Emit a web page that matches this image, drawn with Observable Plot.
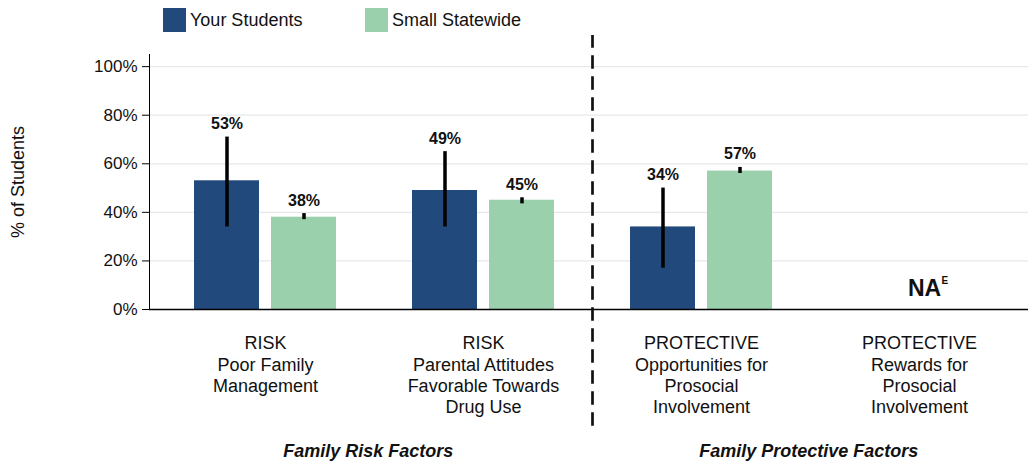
<!DOCTYPE html>
<html>
<head>
<meta charset="utf-8">
<script src="https://cdn.jsdelivr.net/npm/d3@7"></script>
<script src="https://cdn.jsdelivr.net/npm/@observablehq/plot@0.6"></script>
<style>
  html, body { margin: 0; padding: 0; background: #fff; overflow: hidden; }
  body { width: 1029px; height: 467px; font-family: "Liberation Sans", Arial, sans-serif; color: #111; }
  #legend { height: 35px; position: relative; font-size: 18px; }
  .item { position: absolute; top: 8px; display: flex; align-items: center; height: 24px; }
  .sw { width: 23px; height: 24px; margin-right: 4px; }
  #groups { height: 35px; display: flex; padding-left: 148px; font-size: 18px; font-weight: bold; font-style: italic; }
  #groups div { flex: 1; text-align: center; padding-top: 9px; }
  svg { display: block; }
</style>
</head>
<body>
<div id="legend"></div>
<div id="chart"></div>
<div id="groups"></div>
<script>
// ---- data ----
const categories = [
  "RISK\nPoor Family\nManagement",
  "RISK\nParental Attitudes\nFavorable Towards\nDrug Use",
  "PROTECTIVE\nOpportunities for\nProsocial\nInvolvement",
  "PROTECTIVE\nRewards for\nProsocial\nInvolvement"
];
const series = ["Your Students", "Small Statewide"];
const yourStudents = [53, 49, 34, null];
const yourLow = [34, 34, 17, null];
const yourHigh = [71, 65, 50, null];
const smallStatewide = [38, 45, 57, null];
const stateLow = [37, 43.5, 56, null];
const stateHigh = [39.5, 46, 58.5, null];
const naCategory = categories[3];
const naText = "NA";
const naSuperscript = "E";
const groupLabels = ["Family Risk Factors", "Family Protective Factors"];
const yTicks = [0, 20, 40, 60, 80, 100];
const yLabel = "% of Students";
const colors = ["#21497c", "#9bd0ac"];

// ---- table ----
const rows = [];
categories.forEach((c, i) => {
  if (yourStudents[i] != null) rows.push({cat: c, series: series[0], value: yourStudents[i], lo: yourLow[i], hi: yourHigh[i]});
  if (smallStatewide[i] != null) rows.push({cat: c, series: series[1], value: smallStatewide[i], lo: stateLow[i], hi: stateHigh[i]});
});
// reference lines per facet (first facet extends to the axis line)
const gridFirst = yTicks.map(t => ({cat: categories[0], t}));
const gridRest = categories.slice(1).flatMap(c => yTicks.map(t => ({cat: c, t})));

// legend
const legend = document.getElementById("legend");
const legendLeft = [163, 365];
series.forEach((s, i) => {
  const it = document.createElement("div");
  it.className = "item";
  it.style.left = legendLeft[i] + "px";
  it.innerHTML = `<div class="sw" style="background:${colors[i]}"></div><span>${s}</span>`;
  legend.appendChild(it);
});
// group labels
const groups = document.getElementById("groups");
groupLabels.forEach(g => { const d = document.createElement("div"); d.textContent = g; groups.appendChild(d); });

const font = "Liberation Sans, Arial, sans-serif";
const first = [categories[0]];
const gridStyle = {stroke: "#e8e8e8", strokeWidth: 1.2};
const chart = Plot.plot({
  width: 1029,
  height: 397,
  marginLeft: 148,
  marginRight: 0,
  marginTop: 19,
  marginBottom: 123,
  style: {fontFamily: font, color: "#111", background: "white"},
  fx: {domain: categories, range: [155, 1029], padding: 0, label: null},
  x: {domain: series, paddingInner: 0.16, paddingOuter: 0.49, axis: null},
  y: {domain: [0, 105]},
  color: {domain: series, range: colors},
  marks: [
    Plot.ruleY(gridFirst.filter(d => d.t > 0), {fx: "cat", y: "t", ...gridStyle, insetLeft: -7}),
    Plot.ruleY(gridRest.filter(d => d.t > 0), {fx: "cat", y: "t", ...gridStyle}),
    Plot.barY(rows, {fx: "cat", x: "series", y: "value", fill: "series"}),
    Plot.ruleX(rows, {fx: "cat", x: "series", y1: "lo", y2: "hi", stroke: "black", strokeWidth: 3.5}),
    Plot.text(rows, {fx: "cat", x: "series", y: "hi", text: d => d.value + "%", dy: -8, lineAnchor: "bottom", fontSize: 16, fontWeight: "bold", fill: "#111"}),
    Plot.text([naCategory], {fx: d => d, y: () => 0, text: () => naText, dx: 5, dy: -14, lineAnchor: "bottom", fontSize: 23, fontWeight: "bold", fill: "#111"}),
    Plot.text([naCategory], {fx: d => d, y: () => 0, text: () => naSuperscript, textAnchor: "start", dx: 22, dy: -26, lineAnchor: "bottom", fontSize: 10, fontWeight: "bold", fill: "#111"}),
    Plot.ruleY(gridFirst.filter(d => d.t === 0), {fx: "cat", y: "t", stroke: "black", strokeWidth: 1.3, insetLeft: -7}),
    Plot.ruleY(gridRest.filter(d => d.t === 0), {fx: "cat", y: "t", stroke: "black", strokeWidth: 1.3}),
    Plot.frame({fx: first, anchor: "left", stroke: "black", strokeWidth: 1, insetLeft: -7}),
    Plot.frame({fx: [categories[2]], anchor: "left", stroke: "#111", strokeWidth: 2.7, strokeDasharray: "11,10", insetTop: -19, insetBottom: -123}),
    Plot.axisY({ticks: yTicks, tickFormat: d => d + "%", tickSize: 7, tickPadding: 5, fontSize: 17, label: null, stroke: "black", dx: -7}),
    Plot.text([yLabel], {fx: first, text: d => d, frameAnchor: "left", textAnchor: "middle", rotate: -90, dx: -138, fontSize: 18, fill: "#111"}),
    Plot.axisFx({anchor: "bottom", tickSize: 0, tickPadding: 25, fontSize: 18, lineHeight: 1.17, label: null, lineAnchor: "top"})
  ]
});
document.getElementById("chart").appendChild(chart);
</script>
</body>
</html>
